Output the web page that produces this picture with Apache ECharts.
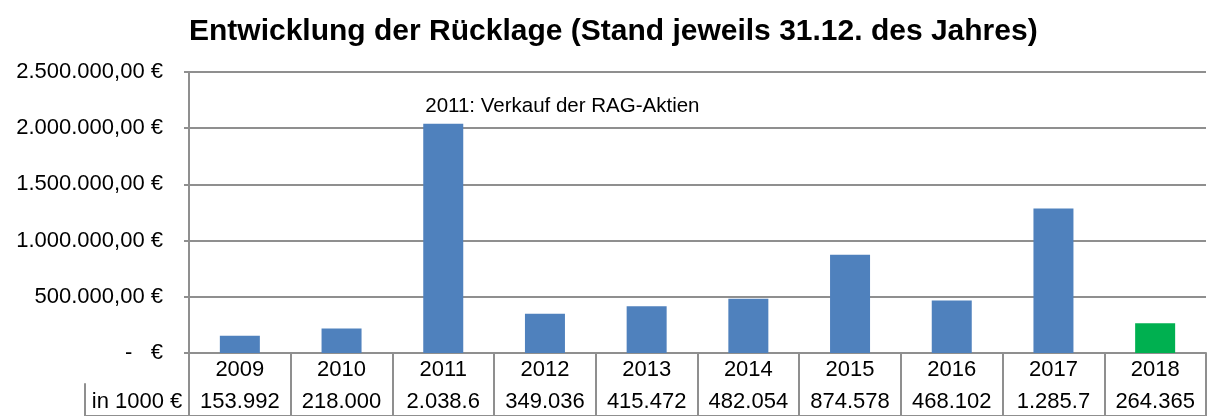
<!DOCTYPE html>
<html>
<head>
<meta charset="utf-8">
<script src="https://cdn.jsdelivr.net/npm/echarts@6/dist/echarts.min.js"></script>
<style>
  html, body { margin: 0; padding: 0; background: #fff; }
  #chart { width: 1207px; height: 416px; }
</style>
</head>
<body>
<div id="chart"></div>
<script>
const years = ['2009', '2010', '2011', '2012', '2013', '2014', '2015', '2016', '2017', '2018'];
const reserve = [153992, 218000, 2038600, 349036, 415472, 482054, 874578, 468102, 1285700, 264365];
// text of the "in 1000 €" row, as printed in the sheet
const tableLabels = ['153.992', '218.000', '2.038.6', '349.036', '415.472', '482.054', '874.578', '468.102', '1.285.7', '264.365'];
const rowTitle = ['in 1000 €'];

const font = 'Liberation Sans, Arial, sans-serif';
const gray = '#8f8f8f';

function euro(v) {
    if (v === 0) return '-   €';
    const s = String(Math.round(v)).replace(/\B(?=(\d{3})+(?!\d))/g, '.');
    return s + ',00 €';
}

const chart = echarts.init(document.getElementById('chart'), null, { renderer: 'canvas' });

const option = {
    animation: false,
    title: {
        text: 'Entwicklung der Rücklage (Stand jeweils 31.12. des Jahres)',
        left: 184,
        top: 12,
        textStyle: { fontFamily: font, fontSize: 30, fontWeight: 'bold', color: '#000' }
    },
    grid: [
        { left: 189, right: 1, top: 72, bottom: 63 },
        { left: 189, right: 1, top: 384, bottom: -30 },
        { left: 85, right: 1018, top: 384, bottom: -30 }
    ],
    xAxis: [
        {
            gridIndex: 0,
            type: 'category',
            data: years,
            axisLine: { lineStyle: { color: gray, width: 2 } },
            axisTick: { show: true, interval: 0, length: 70, lineStyle: { color: gray, width: 2 } },
            axisLabel: { interval: 0, margin: 6, color: '#000', fontFamily: font, fontSize: 22 }
        },
        {
            gridIndex: 1,
            type: 'category',
            position: 'top',
            data: years,
            axisLine: { lineStyle: { color: gray, width: 2 } },
            axisTick: { show: false },
            axisLabel: {
                inside: true, interval: 0, margin: 7, color: '#000', fontFamily: font, fontSize: 22,
                formatter: (v, i) => tableLabels[i]
            }
        },
        {
            gridIndex: 2,
            type: 'category',
            position: 'top',
            data: rowTitle,
            axisLine: { lineStyle: { color: gray, width: 2 } },
            axisTick: { show: false },
            axisLabel: { inside: true, margin: 7, color: '#000', fontFamily: font, fontSize: 22 }
        }
    ],
    yAxis: [
        {
            gridIndex: 0,
            type: 'value',
            min: 0,
            max: 2500000,
            interval: 500000,
            axisLine: { show: true, lineStyle: { color: gray, width: 2 } },
            axisTick: { show: true, length: 5, lineStyle: { color: gray, width: 2 } },
            splitLine: { lineStyle: { color: gray, width: 2 } },
            axisLabel: { margin: 26, color: '#000', fontFamily: font, fontSize: 22, formatter: euro }
        },
        { gridIndex: 1, type: 'value', min: 0, max: 1, show: false },
        {
            gridIndex: 2,
            type: 'value',
            min: 0,
            max: 1,
            axisLine: { show: true, lineStyle: { color: gray, width: 2 } },
            axisTick: { show: false },
            axisLabel: { show: false },
            splitLine: { show: false }
        }
    ],
    series: [
        {
            type: 'bar',
            xAxisIndex: 0,
            yAxisIndex: 0,
            barWidth: 40,
            data: reserve.map((v, i) => {
                const item = { value: v };
                if (i === years.length - 1) item.itemStyle = { color: '#00b050' };
                if (years[i] === '2011') {
                    item.label = {
                        show: true,
                        formatter: '2011: Verkauf der RAG-Aktien',
                        position: [2, -7],
                        align: 'left',
                        verticalAlign: 'bottom',
                        color: '#000',
                        fontFamily: font,
                        fontSize: 20.5
                    };
                }
                return item;
            }),
            itemStyle: { color: '#4f81bd' }
        }
    ]
};

option && chart.setOption(option);
</script>
</body>
</html>
